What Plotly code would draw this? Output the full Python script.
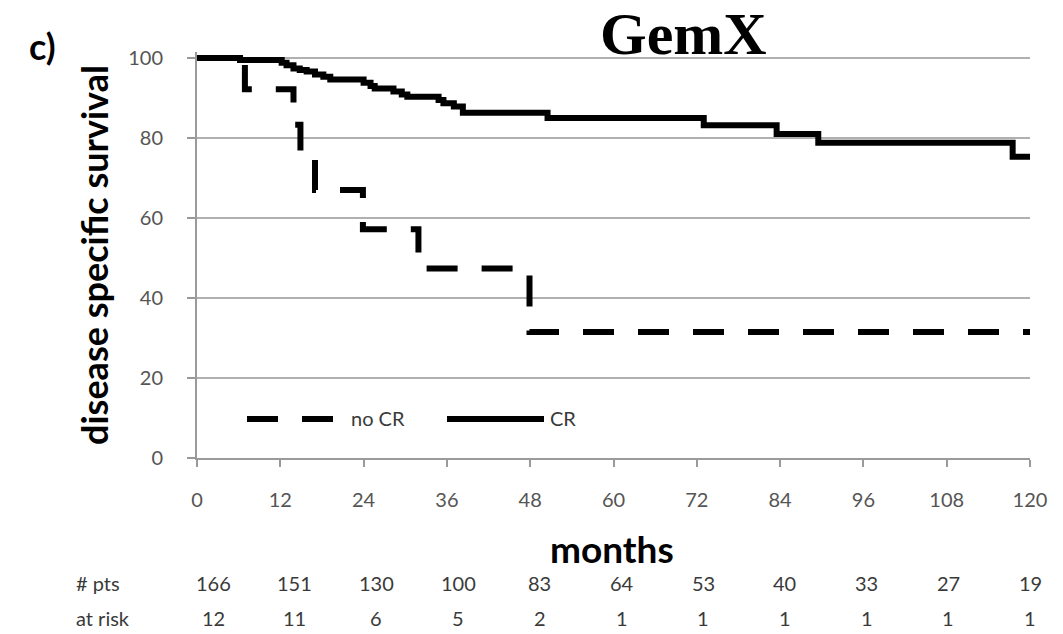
import plotly.graph_objects as go
import numpy as np

# ---- data ----
cr_months = [0, 6.2, 12.2, 12.9, 13.9, 14.8, 15.8, 17.0, 18.2, 19.2, 24.0, 25.0, 25.6,
             28.3, 29.5, 30.3, 34.8, 35.5, 37.0, 38.3, 50.5, 73.0, 83.5, 89.5, 117.5, 120]
cr_surv = [100, 99.5, 98.8, 98.2, 97.4, 97.0, 96.6, 95.9, 95.3, 94.6, 93.8, 93.0, 92.4,
           91.6, 90.9, 90.3, 89.5, 88.7, 87.9, 86.3, 85.0, 83.2, 81.0, 78.8, 75.3, 75.3]

nocr_months = [0, 6.9, 13.9, 14.9, 17.0, 23.9, 31.9, 47.9, 120]
nocr_surv = [100, 92.2, 83.3, 75.5, 67.0, 57.2, 47.4, 31.5, 31.5]

x_ticks = [0, 12, 24, 36, 48, 60, 72, 84, 96, 108, 120]
y_ticks = [0, 20, 40, 60, 80, 100]

pts_row = [166, 151, 130, 100, 83, 64, 53, 40, 33, 27, 19]
risk_row = [12, 11, 6, 5, 2, 1, 1, 1, 1, 1, 1]

# ---- layout geometry ----
W, H = 1063, 634
ML, MR, MT, MB = 197, 33, 52, 176
PW = W - ML - MR
PH = H - MT - MB
Y0 = H - MB


def px(x, y):
    return (x - ML) / PW, (Y0 - y) / PH


FONT = "Lato"
GRAY = "#555555"
DARK = "#3a3a3a"
DASH = "31px,24px"

fig = go.Figure()
fig.add_trace(go.Scatter(x=cr_months, y=cr_surv, mode="lines", line_shape="hv",
                         line=dict(color="black", width=6), name="CR"))
fig.add_trace(go.Scatter(x=nocr_months, y=nocr_surv, mode="lines", line_shape="hv",
                         line=dict(color="black", width=6, dash=DASH), name="no CR"))

annotations = []


def add_text(text, x, y, size, color="black", bold=False, family=FONT,
             xanchor="center", angle=0):
    ax, ay = px(x, y)
    annotations.append(dict(
        text=f"<b>{text}</b>" if bold else text, x=ax, y=ay, xref="paper", yref="paper",
        xanchor=xanchor, yanchor="middle", showarrow=False, textangle=angle,
        font=dict(family=family, size=size, color=color)))


add_text("GemX", 683, 34, 60, bold=True, family="Liberation Serif")
add_text("c)", 42, 46, 36, bold=True)
add_text("disease specific survival", 94, 255, 36, bold=True, angle=-90)
add_text("months", 612, 548, 37, bold=True)
add_text("# pts", 74, 583, 20, color=DARK, xanchor="left")
add_text("at risk", 74, 618, 20, color=DARK, xanchor="left")

col_x = np.linspace(213, 1030, len(pts_row))
for cx, p, r in zip(col_x, pts_row, risk_row):
    add_text(str(p), cx, 583, 20, color=DARK)
    add_text(str(r), cx, 618, 20, color=DARK)

# legend drawn by hand (long samples like the original)
add_text("no CR", 349, 418, 20, color=DARK, xanchor="left")
add_text("CR", 548, 418, 20, color=DARK, xanchor="left")
shapes = []
lx0, ly = px(247, 419)
lx1, _ = px(333, 419)
shapes.append(dict(type="line", xref="paper", yref="paper", x0=lx0, x1=lx1, y0=ly, y1=ly,
                   line=dict(color="black", width=6, dash=DASH)))
sx0, _ = px(447, 419)
sx1, _ = px(544, 419)
shapes.append(dict(type="line", xref="paper", yref="paper", x0=sx0, x1=sx1, y0=ly, y1=ly,
                   line=dict(color="black", width=6)))

fig.update_layout(
    width=W, height=H,
    margin=dict(l=ML, r=MR, t=MT, b=MB, pad=0),
    paper_bgcolor="white", plot_bgcolor="white",
    showlegend=False,
    annotations=annotations, shapes=shapes,
    xaxis=dict(range=[0, 120], tickvals=x_ticks, ticks="outside", ticklen=7,
               tickwidth=2, tickcolor="#9a9a9a", showline=True, linecolor="#9a9a9a",
               linewidth=2, showgrid=False, zeroline=False, ticklabelstandoff=16,
               tickfont=dict(family=FONT, size=20, color=GRAY)),
    yaxis=dict(range=[0, 101.5], tickvals=y_ticks, ticks="outside", ticklen=8,
               tickwidth=2, tickcolor="#9a9a9a", showline=True, linecolor="#9a9a9a",
               linewidth=2, showgrid=True, gridcolor="#b0b0b0", gridwidth=2,
               zeroline=False, ticklabelstandoff=20,
               tickfont=dict(family=FONT, size=20, color=GRAY)),
)

fig.write_html("out.html")
